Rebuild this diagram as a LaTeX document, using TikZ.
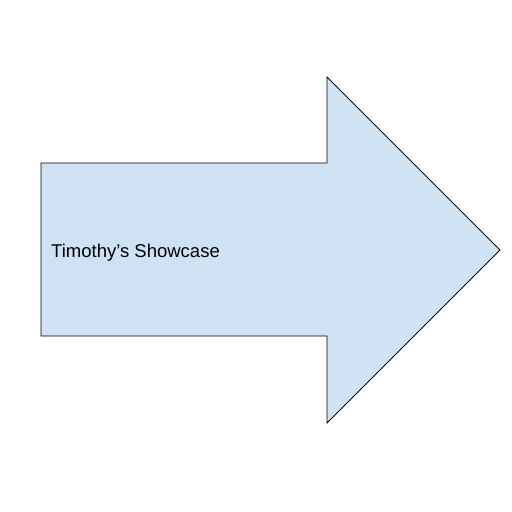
\documentclass[tikz,border=0pt]{standalone}
\usepackage{fontspec}
\setmainfont{Liberation Sans}
\usetikzlibrary{positioning}
\definecolor{arrowblue}{HTML}{CFE2F3}
\tikzstyle{bigarrow} = [draw=black, fill=arrowblue, line width=0.8pt, line join=miter]
\tikzstyle{label} = [anchor=west, inner sep=0pt, font=\fontsize{18.5}{22}\selectfont]

\begin{document}
\begin{tikzpicture}[x=1pt, y=-1pt]
        \useasboundingbox (0,0) rectangle (512,512);
        \draw [bigarrow] (41,163) -- (327,163) -- (327,77) -- (500,250) -- (327,423) -- (327,336) -- (41,336) -- cycle;
        \node (title) [label] at (51,253) {Timothy’s Showcase};
\end{tikzpicture}
\end{document}
